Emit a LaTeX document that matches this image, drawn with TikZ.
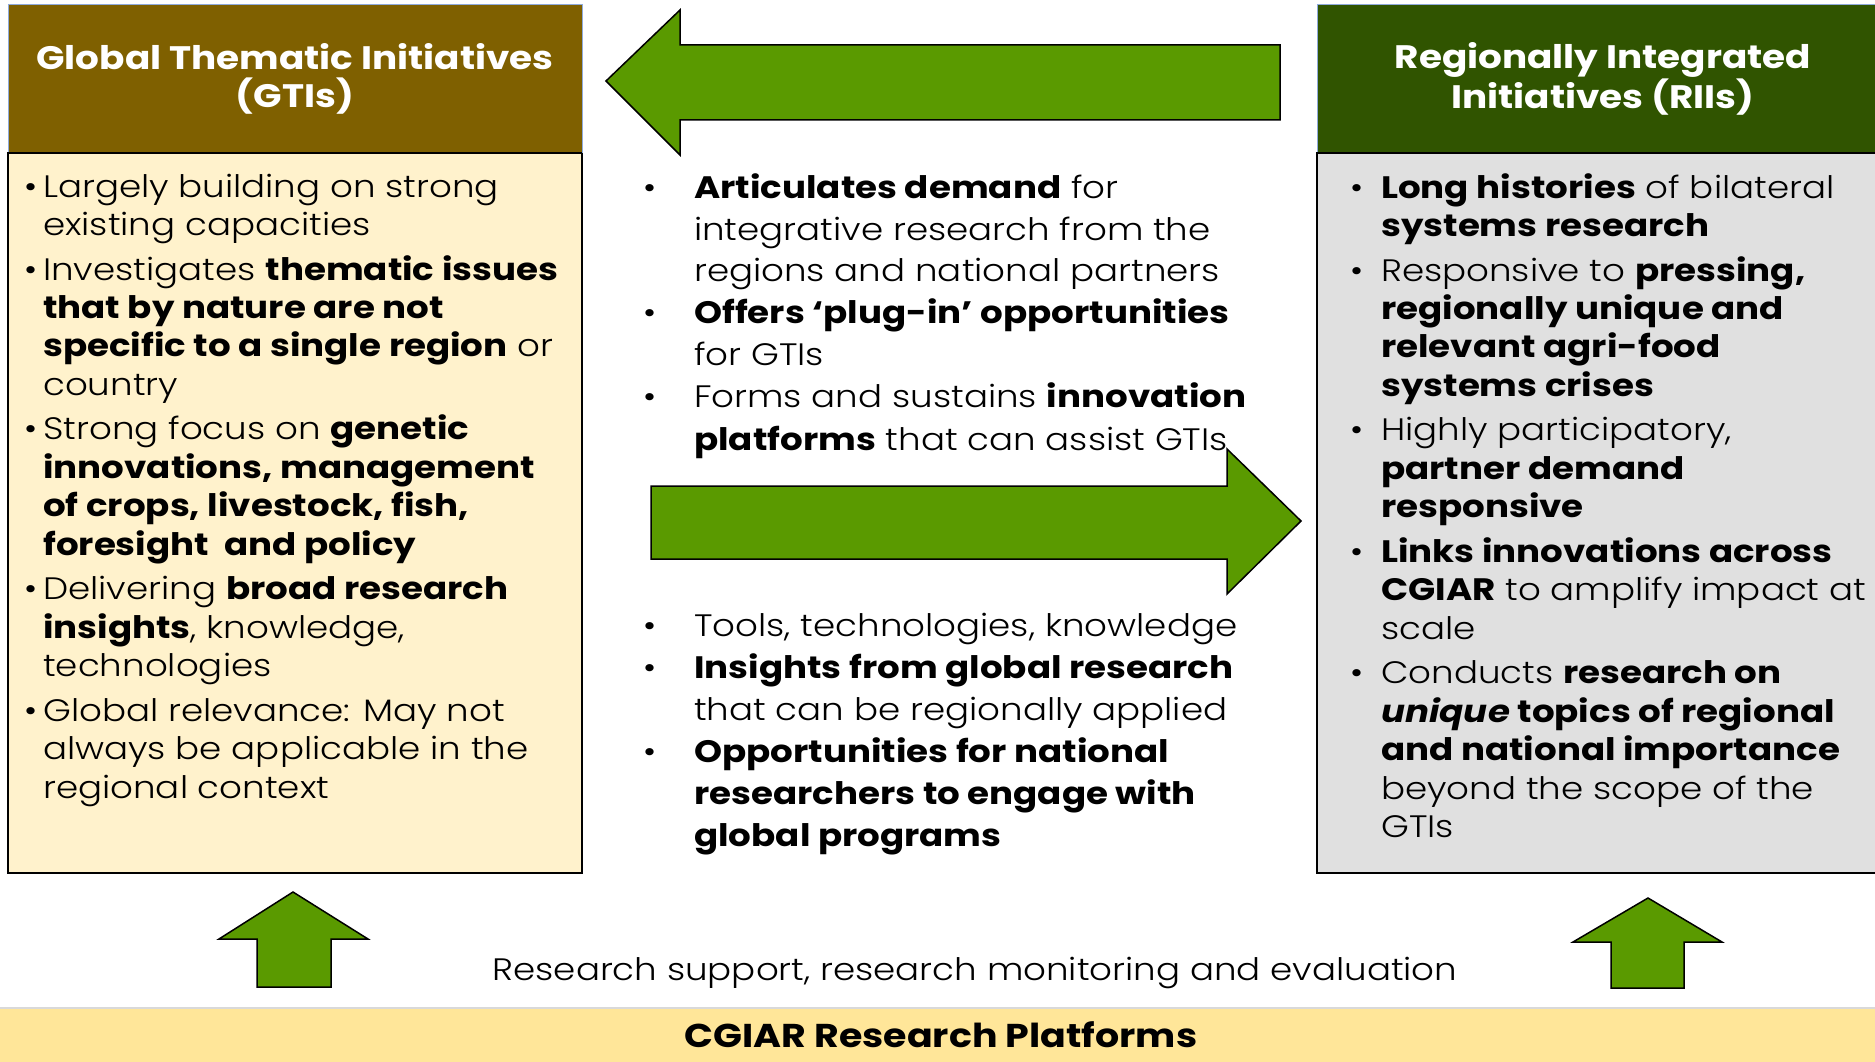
\documentclass[tikz,border=0pt]{standalone}
\usepackage{fontspec}
\setmainfont{Poppins}[FakeStretch=1.15, UprightFont=* Light, BoldFont=* Bold, ItalicFont=* Light Italic, BoldItalicFont=* Bold Italic]
\usepackage{array}
\definecolor{gtihead}{RGB}{127,96,0}
\definecolor{gtibody}{RGB}{255,242,204}
\definecolor{riihead}{RGB}{48,84,0}
\definecolor{riibody}{RGB}{224,224,224}
\definecolor{arrowgreen}{RGB}{90,154,0}
\definecolor{band}{RGB}{255,230,153}
\definecolor{headedge}{RGB}{143,170,220}
\tikzset{
  headbox/.style={draw=headedge, line width=1pt},
  bodybox/.style={draw=black, line width=2pt},
  blockarrow/.style={fill=arrowgreen, draw=black, line width=1.5pt, line join=miter},
  titletext/.style={text=white, align=center, inner sep=0pt, font=\fontsize{32.5}{38}\selectfont\bfseries},
  coltext/.style={anchor=base west, inner sep=0pt, font=\fontsize{31}{38.5}\selectfont},
  midtext/.style={anchor=base west, inner sep=0pt, font=\fontsize{31}{42}\selectfont},
  plaintext/.style={inner sep=0pt, font=\fontsize{31}{38}\selectfont}
}
\newcommand{\gp}{\\[6pt]}
\begin{document}
\begin{tikzpicture}[x=1pt,y=-1pt]
\useasboundingbox (0,0) rectangle (1875,1062);
\fill[white] (0,0) rectangle (1875,1062);
% GTI box
\filldraw[fill=gtibody, bodybox] (8,153) rectangle (582,873);
\filldraw[fill=gtihead, headbox] (8,5) rectangle (582,153);
\draw[black, line width=2pt] (8,153) -- (582,153);
\node[titletext] (gtititle) at (295,79) {Global Thematic Initiatives\\(GTIs)};
% RII box
\filldraw[fill=riibody, bodybox] (1317,153) rectangle (1880,873);
\filldraw[fill=riihead, headbox] (1317,5) rectangle (1880,153);
\draw[black, line width=2pt] (1317,153) -- (1880,153);
\node[titletext] (riititle) at (1603,79) {Regionally Integrated\\Initiatives (RIIs)};
% top arrow (pointing left)
\filldraw[blockarrow] (1280,45) -- (680,45) -- (680,10) -- (606,81) -- (680,155) -- (680,120) -- (1280,120) -- cycle;
% middle arrow (pointing right)
\filldraw[blockarrow] (651,486) -- (1227,486) -- (1227,449) -- (1301,521) -- (1227,594) -- (1227,559) -- (651,559) -- cycle;
% bottom arrows (pointing up)
\filldraw[blockarrow] (257,987) -- (257,939) -- (219,939) -- (293,892) -- (368,939) -- (331,939) -- (331,987) -- cycle;
\filldraw[blockarrow] (1611,988) -- (1611,942) -- (1573,942) -- (1648,898) -- (1722,942) -- (1684,942) -- (1684,988) -- cycle;
% band
\fill[band] (0,1008) rectangle (1875,1062);
\draw[black!15, line width=2pt] (0,1008) -- (1875,1008);
% texts
\node[coltext] (gtitext) at (24,197) {\begin{tabular}[t]{@{}p{19pt}@{}l@{}}
\textbullet & Largely building on strong \\
& existing capacities \gp
\textbullet & Investigates \textbf{thematic issues} \\
& \textbf{that by nature are not} \\
& \textbf{specific to a single region} or \\
& country \gp
\textbullet & Strong focus on \textbf{genetic} \\
& \textbf{innovations, management} \\
& \textbf{of crops, livestock, fish,} \\
& \textbf{foresight\ \ and policy} \gp
\textbullet & Delivering \textbf{broad research} \\
& \textbf{insights}, knowledge, \\
& technologies \gp
\textbullet & Global relevance: May not \\
& always be applicable in the \\
& regional context
\end{tabular}};
\node[coltext] (riitext) at (1350,198) {\begin{tabular}[t]{@{}p{31pt}@{}l@{}}
\textbullet & \textbf{Long histories} of bilateral \\
& \textbf{systems research} \gp
\textbullet & Responsive to \textbf{pressing,} \\
& \textbf{regionally unique and} \\
& \textbf{relevant agri-food} \\
& \textbf{systems crises} \gp
\textbullet & Highly participatory, \\
& \textbf{partner demand} \\
& \textbf{responsive} \gp
\textbullet & \textbf{Links innovations across} \\
& \textbf{CGIAR} to amplify impact at \\
& scale \gp
\textbullet & Conducts \textbf{research on} \\
& \textbf{\textit{unique} topics of regional} \\
& \textbf{and national importance} \\
& beyond the scope of the \\
& GTIs
\end{tabular}};
\node[midtext] (midup) at (643,198) {\begin{tabular}[t]{@{}p{51pt}@{}l@{}}
\textbullet & \textbf{Articulates demand} for \\
& integrative research from the \\
& regions and national partners \\
\textbullet & \textbf{Offers ‘plug-in’ opportunities} \\
& for GTIs \\
\textbullet & Forms and sustains \textbf{innovation} \\
& \textbf{platforms} that can assist GTIs
\end{tabular}};
\node[midtext] (middown) at (643,636) {\begin{tabular}[t]{@{}p{51pt}@{}l@{}}
\textbullet & Tools, technologies, knowledge \\
\textbullet & \textbf{Insights from global research} \\
& that can be regionally applied \\
\textbullet & \textbf{Opportunities for national} \\
& \textbf{researchers to engage with} \\
& \textbf{global programs}
\end{tabular}};
\node[plaintext] (support) at (975,973) {Research support, research monitoring and evaluation};
\node[plaintext, font=\fontsize{33}{38}\selectfont\bfseries] (platforms) at (941,1035) {CGIAR Research Platforms};
\end{tikzpicture}
\end{document}
